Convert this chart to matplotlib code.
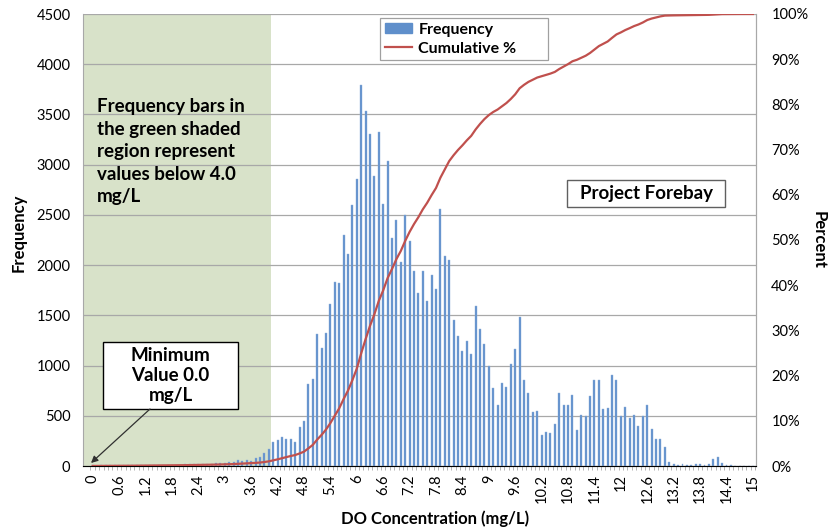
import numpy as np
import matplotlib
matplotlib.use("Agg")
import matplotlib.pyplot as plt
from matplotlib.patches import Rectangle, Patch
from matplotlib.lines import Line2D

plt.rcParams['font.family'] = ['Lato', 'DejaVu Sans']

# DO concentration bins (mg/L), 0.0 .. 15.0 step 0.1
bins = [round(i / 10, 1) for i in range(151)]

frequency = [
    12, 4, 14, 5, 6, 5, 7, 6, 8, 7,
    9, 8, 10, 9, 11, 10, 12, 11, 13, 12,
    14, 15, 16, 18, 17, 20, 22, 21, 25, 28,
    30, 35, 40, 55, 52, 56, 54, 76, 85, 130,
    166, 241, 255, 290, 272, 272, 240, 392, 445, 820,
    863, 1311, 1179, 1321, 1610, 1833, 1826, 2304, 2108, 2596,
    2862, 3791, 3536, 3303, 2888, 3327, 2613, 3038, 2274, 2450,
    2030, 2503, 2238, 1943, 1723, 1937, 1644, 1903, 1761, 2558,
    2086, 2053, 1455, 1299, 1146, 1246, 1116, 1588, 1365, 1213,
    997, 774, 608, 824, 791, 1013, 1163, 1488, 857, 731,
    535, 548, 313, 340, 327, 416, 725, 610, 603, 710,
    360, 510, 500, 693, 853, 853, 570, 577, 903, 853,
    500, 583, 477, 510, 400, 500, 610, 367, 267, 270,
    193, 37, 17, 13, 20, 13, 13, 20, 20, 13,
    20, 67, 90, 27, 13, 7, 3, 2, 1, 1,
    0,
]

xtick_labels = ["0", "0.6", "1.2", "1.8", "2.4", "3", "3.6", "4.2", "4.8",
                "5.4", "6", "6.6", "7.2", "7.8", "8.4", "9", "9.6", "10.2",
                "10.8", "11.4", "12", "12.6", "13.2", "13.8", "14.4", "15"]
ytick_left = [0, 500, 1000, 1500, 2000, 2500, 3000, 3500, 4000, 4500]
ytick_right = [0, 10, 20, 30, 40, 50, 60, 70, 80, 90, 100]

freq = np.array(frequency, dtype=float)
cumulative = np.cumsum(freq) / freq.sum() * 100.0
idx = np.arange(len(bins))

W, H = 836, 532
fig = plt.figure(figsize=(W / 100, H / 100), dpi=100)
L, R, T, B = 83, 756, 14, 466
ax = fig.add_axes([L / W, 1 - B / H, (R - L) / W, (B - T) / H])

ax.set_xlim(-2.2, 150.7)
ax.set_ylim(0, 4500)

# green shaded region
ax.axvspan(-2.2, 40.4, color='#d8e2c9', zorder=0, lw=0)

ax.set_yticks(ytick_left)
ax.set_yticklabels([str(v) for v in ytick_left])
ax.yaxis.grid(True, color='#a8a8a8', lw=0.9, zorder=1)
ax.set_axisbelow(True)

ax.bar(idx, freq, width=0.45, color='#5f8fcb', edgecolor='#8fb0da', lw=0.3, zorder=2)

ax.set_xticks(idx[::6])
ax.set_xticklabels(xtick_labels, rotation=90, fontsize=10.5)
ax.set_xticks(np.arange(-0.5, 151, 1), minor=True)
ax.tick_params(axis='x', which='major', length=0, pad=6)
ax.tick_params(axis='x', which='minor', length=3, color='#a8a8a8')
ax.tick_params(axis='y', length=0, pad=9, labelsize=10.5)

ax.spines['top'].set_visible(False)
for s in ['left', 'right', 'bottom']:
    ax.spines[s].set_color('#a8a8a8')

ax2 = ax.twinx()
ax2.set_ylim(0, 100)
ax2.set_yticks(ytick_right)
ax2.set_yticklabels([f"{v}%" for v in ytick_right])
ax2.tick_params(axis='y', length=0, pad=11, labelsize=10.5)
for s in ['top', 'left']:
    ax2.spines[s].set_visible(False)
ax2.spines['right'].set_color('#a8a8a8')
ax2.plot(idx, cumulative, color='#c0504d', lw=1.6, zorder=3)

# axis titles placed to match the reference
fig.text(435 / W, 1 - 519 / H, "DO Concentration (mg/L)", ha='center', va='center',
         fontsize=12, fontweight='bold')
fig.text(19 / W, 1 - 233 / H, "Frequency", ha='center', va='center', rotation=90,
         fontsize=12, fontweight='bold')
fig.text(819 / W, 1 - 240 / H, "Percent", ha='center', va='center', rotation=270,
         fontsize=12, fontweight='bold')

def fx(px):
    return (px - L) / (R - L)

def fy(py):
    return (B - py) / (B - T)

# green-region text
ax.text(fx(97), fy(98), "Frequency bars in\nthe green shaded\nregion represent\nvalues below 4.0\nmg/L",
        transform=ax.transAxes, ha='left', va='top', fontsize=13.5, fontweight='bold',
        linespacing=1.4, zorder=5)

# Minimum value box + arrow
ax.add_patch(Rectangle((fx(103), fy(409)), fx(238) - fx(103), fy(342) - fy(409),
                       transform=ax.transAxes, facecolor='white', edgecolor='black',
                       lw=1.0, zorder=5))
ax.text((fx(103) + fx(238)) / 2, (fy(409) + fy(342)) / 2, "Minimum\nValue 0.0\nmg/L",
        transform=ax.transAxes, ha='center', va='center', fontsize=13.5, fontweight='bold',
        linespacing=1.2, zorder=6)
ax.annotate("", xy=(fx(91), fy(463)), xytext=(fx(150), fy(409)),
            xycoords='axes fraction', textcoords='axes fraction',
            arrowprops=dict(arrowstyle='-|>', color='#303030', lw=0.9,
                            mutation_scale=10, shrinkA=0, shrinkB=0), zorder=6)

# Project Forebay box
ax.add_patch(Rectangle((fx(567), fy(207)), fx(725) - fx(567), fy(180) - fy(207),
                       transform=ax.transAxes, facecolor='white', edgecolor='#606060',
                       lw=1.0, zorder=5))
ax.text((fx(567) + fx(725)) / 2, (fy(207) + fy(180)) / 2, "Project Forebay",
        transform=ax.transAxes, ha='center', va='center', fontsize=13.5, fontweight='bold',
        zorder=6)

# legend
handles = [Patch(facecolor='#5f8fcb', edgecolor='#5f8fcb'),
           Line2D([0], [0], color='#c0504d', lw=1.6)]
leg = fig.legend(handles, ["Frequency", "Cumulative %"], loc='upper left',
                 bbox_to_anchor=(380 / W, 1 - 58 / H, 168 / W, 40 / H),
                 bbox_transform=fig.transFigure, mode='expand', borderaxespad=0,
                 fancybox=False, framealpha=1, edgecolor='#a0a0a0',
                 prop={'weight': 'bold', 'size': 11.5}, handlelength=1.7,
                 handleheight=0.6, borderpad=0.3, labelspacing=0.3,
                 handletextpad=0.4)
leg.get_frame().set_linewidth(0.9)

fig.savefig("out.png", dpi=100)
